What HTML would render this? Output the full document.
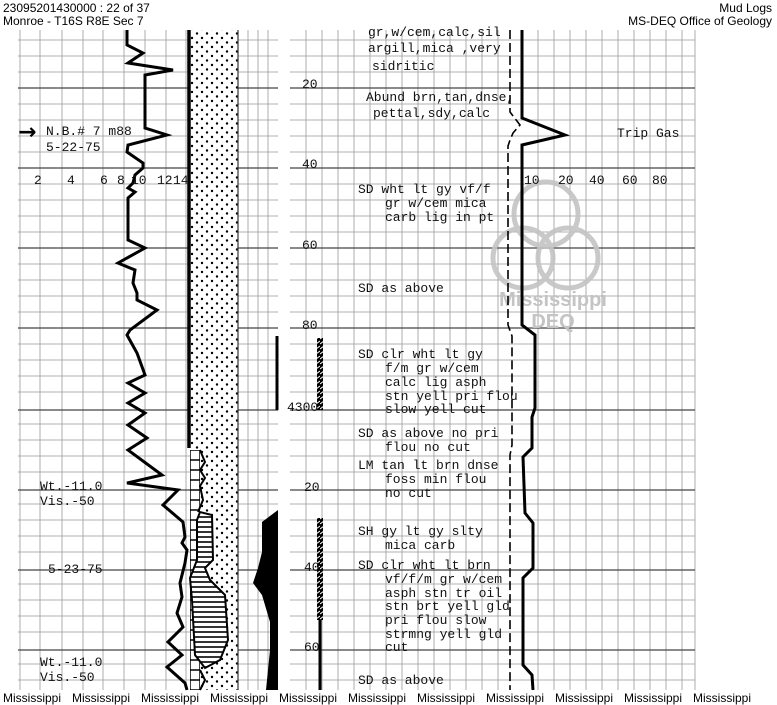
<!DOCTYPE html>
<html><head><meta charset="utf-8"><style>
html,body{margin:0;padding:0;background:#fff;width:777px;height:705px;overflow:hidden}
svg{display:block}
.h{font-family:"Liberation Sans",sans-serif;font-size:12px;fill:#000}
.m{font-family:"Liberation Mono",monospace;font-size:13px;fill:#111}
.s{font-family:"Liberation Mono",monospace;font-size:13px;fill:#111}
</style></head><body>
<svg width="777" height="705" viewBox="0 0 777 705" xmlns="http://www.w3.org/2000/svg">
<defs>
<pattern id="dots" width="10" height="9" patternUnits="userSpaceOnUse">
<circle cx="2" cy="2" r="1.2" fill="#000"/><circle cx="7" cy="6.5" r="1.2" fill="#000"/>
</pattern>
<pattern id="sh" width="6" height="5" patternUnits="userSpaceOnUse">
<rect width="6" height="5" fill="#fff"/><line x1="0" y1="2" x2="6" y2="2" stroke="#000" stroke-width="1.6"/>
</pattern>
<pattern id="brick" width="10" height="10" patternUnits="userSpaceOnUse">
<rect width="10" height="10" fill="#fff" stroke="#000" stroke-width="1.5"/>
</pattern>
<pattern id="hatch" width="4" height="5" patternUnits="userSpaceOnUse">
<rect width="4" height="5" fill="#000"/><line x1="0" y1="4" x2="4" y2="1" stroke="#fff" stroke-width="1"/>
</pattern>
</defs>
<rect width="777" height="705" fill="#fff"/>
<g stroke="#999" stroke-width="0.8">
<path d="M20 30V690M40 30V690M62 30V690M83 30V690M103 30V690M124 30V690M145 30V690M166 30V690M186 30V690M248 30V690M258 30V690M268 30V690"/>
<path d="M306 30V690M322 30V690M338 30V690M354 30V690M370 30V690M386 30V690M402 30V690M418 30V690M434 30V690M450 30V690M466 30V690M482 30V690M498 30V690M538 30V690M554 30V690M570 30V690M586 30V690M602 30V690M618 30V690M634 30V690M650 30V690M666 30V690M682 30V690M695 30V690"/>
</g>
<g stroke="#999" stroke-width="0.8">
<path d="M18 40H278M18 56H278M18 72H278M18 104H278M18 120H278M18 136H278M18 152H278M18 184H278M18 200H278M18 216H278M18 232H278M18 264H278M18 280H278M18 296H278M18 312H278M18 344H278M18 360H278M18 376H278M18 392H278M18 424H278M18 440H278M18 456H278M18 472H278M18 504H278M18 520H278M18 536H278M18 552H278M18 584H278M18 600H278M18 616H278M18 632H278M18 664H278M18 680H278"/>
<path d="M290 40H695M290 56H695M290 72H695M290 104H695M290 120H695M290 136H695M290 152H695M290 184H695M290 200H695M290 216H695M290 232H695M290 264H695M290 280H695M290 296H695M290 312H695M290 344H695M290 360H695M290 376H695M290 392H695M290 424H695M290 440H695M290 456H695M290 472H695M290 504H695M290 520H695M290 536H695M290 552H695M290 584H695M290 600H695M290 616H695M290 632H695M290 664H695M290 680H695"/>
</g>
<g stroke="#444" stroke-width="1.3">
<path d="M18 88H278M18 168H278M18 248H278M18 328H278M18 410H278M18 490H278M18 570H278M18 650H278"/>
<path d="M290 88H695M290 168H695M290 248H695M290 328H695M290 410H695M290 490H695M290 570H695M290 650H695"/>
</g>
<rect x="190" y="30" width="48" height="660" fill="#fff"/>
<rect x="190" y="30" width="48" height="660" fill="url(#dots)"/>
<line x1="238" y1="30" x2="238" y2="690" stroke="#333" stroke-width="1.2"/>
<rect x="190" y="450" width="10" height="240" fill="url(#brick)"/>
<polygon points="197,520 200,512 212,515 213,560 205,568 210,580 225,595 228,640 220,660 205,668 195,655 192,600 190,578 197,560" fill="url(#sh)" stroke="#000" stroke-width="2"/>
<polyline points="200,450 205,462 200,470 205,478 200,486 203,500 198,512" fill="none" stroke="#000" stroke-width="2"/>
<polyline points="200,670 205,680 200,690" fill="none" stroke="#000" stroke-width="2"/>
<line x1="189" y1="30" x2="189" y2="448" stroke="#000" stroke-width="3.5"/>
<line x1="277" y1="336" x2="277" y2="410" stroke="#000" stroke-width="3"/>
<polygon points="278,510 262,522 262,552 258,568 253,583 262,595 270,622 270,650 266,690 278,690" fill="#000"/>
<polyline fill="none" stroke="#000" stroke-width="3" points="127,30 127,45 143,53 128,63 173,70 145,75 145,128 167,135 128,145 127,152 143,163 143,168 135,175 133,183 128,188 135,192 128,198 128,240 145,248 118,263 135,270 133,283 137,293 137,300 157,310 130,330 127,335 137,353 145,375 128,383 145,393 128,403 145,413 128,425 147,438 128,450 162,475 127,483 178,490 163,505 183,522 185,537 182,543 187,550 185,563 180,583 182,597 177,613 183,627 168,642 182,655 167,667 185,683 187,690"/>
<rect x="317" y="338" width="6" height="72" fill="url(#hatch)"/>
<rect x="317" y="518" width="6" height="102" fill="url(#hatch)"/>
<line x1="320" y1="620" x2="320" y2="690" stroke="#000" stroke-width="3"/>
<g fill="none" stroke="#c4c4c4" stroke-width="5" opacity="0.9">
<circle cx="546" cy="214" r="32"/><circle cx="523" cy="258" r="30"/><circle cx="568" cy="258" r="30"/>
</g>
<text x="553" y="306" text-anchor="middle" font-family="Liberation Sans,sans-serif" font-weight="bold" font-size="20" fill="#c4c4c4">Mississippi</text>
<text x="553" y="328" text-anchor="middle" font-family="Liberation Sans,sans-serif" font-weight="bold" font-size="20" fill="#c4c4c4">DEQ</text>
<polyline fill="none" stroke="#000" stroke-width="1.6" stroke-dasharray="9,4" points="510,30 510,112 520,125 513,133 510,140 508,146 508,325 512,336 512,445 510,455 510,690"/>
<polyline fill="none" stroke="#000" stroke-width="3" points="522,30 522,118 565,135 522,145 522,325 535,335 535,408 532,417 532,448 523,457 525,513 533,523 533,568 523,578 523,665 532,675 533,690"/>
<text class="h" x="3" y="12">23095201430000 : 22 of 37</text>
<text class="h" x="3" y="25">Monroe - T16S R8E Sec 7</text>
<text class="h" x="772" y="12" text-anchor="end">Mud Logs</text>
<text class="h" x="772" y="25" text-anchor="end">MS-DEQ Office of Geology</text>
<text x="18" y="139" font-family="DejaVu Sans,sans-serif" font-size="22" font-weight="bold">→</text>
<text class="s" x="46" y="135">N.B.# 7 m88</text>
<text class="s" x="46" y="151">5-22-75</text>
<text class="s" x="34" y="184">2</text><text class="s" x="67" y="184">4</text>
<text class="s" x="100" y="184">6</text><text class="s" x="117" y="184">8</text>
<text class="s" x="131" y="184">10</text><text class="s" x="157" y="184">12</text><text class="s" x="173" y="184">14</text>
<text class="s" x="40" y="490">Wt.-11.0</text><text class="s" x="40" y="505">Vis.-50</text>
<text class="s" x="48" y="573">5-23-75</text>
<text class="s" x="40" y="666">Wt.-11.0</text><text class="s" x="40" y="681">Vis.-50</text>
<text class="s" x="302" y="88">20</text><text class="s" x="302" y="168">40</text>
<text class="s" x="302" y="249">60</text><text class="s" x="302" y="329">80</text>
<text class="s" x="287" y="411">4300</text><text class="s" x="304" y="491">20</text>
<text class="s" x="304" y="571">40</text><text class="s" x="304" y="651">60</text>
<text class="s" x="524" y="184">10</text><text class="s" x="558" y="184">20</text>
<text class="s" x="589" y="184">40</text><text class="s" x="622" y="184">60</text><text class="s" x="652" y="184">80</text>
<text class="s" x="617" y="137">Trip Gas</text>
<g class="m">
<text x="368" y="36">gr,w/cem,calc,sil</text>
<text x="368" y="52">argill,mica ,very</text>
<text x="372" y="70">sidritic</text>
<text x="366" y="101">Abund brn,tan,dnse,</text>
<text x="373" y="117">pettal,sdy,calc</text>
<text x="358" y="193">SD wht lt gy vf/f</text>
<text x="385" y="207">gr w/cem mica</text>
<text x="385" y="221">carb lig in pt</text>
<text x="358" y="292">SD as above</text>
<text x="358" y="358">SD clr wht lt gy</text>
<text x="385" y="372">f/m gr w/cem</text>
<text x="385" y="386">calc lig asph</text>
<text x="385" y="400">stn yell pri flou</text>
<text x="385" y="413">slow yell cut</text>
<text x="358" y="437">SD as above no pri</text>
<text x="385" y="451">flou no cut</text>
<text x="358" y="469">LM tan lt brn dnse</text>
<text x="385" y="483">foss min flou</text>
<text x="385" y="497">no cut</text>
<text x="358" y="535">SH gy lt gy slty</text>
<text x="385" y="549">mica carb</text>
<text x="358" y="569">SD clr wht lt brn</text>
<text x="385" y="583">vf/f/m gr w/cem</text>
<text x="385" y="597">asph stn tr oil</text>
<text x="385" y="610">stn brt yell gld</text>
<text x="385" y="624">pri flou slow</text>
<text x="385" y="638">strmng yell gld</text>
<text x="385" y="651">cut</text>
<text x="358" y="684">SD as above</text>
</g>
<g class="h">
<text x="3" y="702">Mississippi</text><text x="72" y="702">Mississippi</text><text x="141" y="702">Mississippi</text>
<text x="210" y="702">Mississippi</text><text x="279" y="702">Mississippi</text><text x="348" y="702">Mississippi</text>
<text x="417" y="702">Mississippi</text><text x="486" y="702">Mississippi</text><text x="555" y="702">Mississippi</text>
<text x="624" y="702">Mississippi</text><text x="693" y="702">Mississippi</text>
</g>
</svg>
</body></html>
